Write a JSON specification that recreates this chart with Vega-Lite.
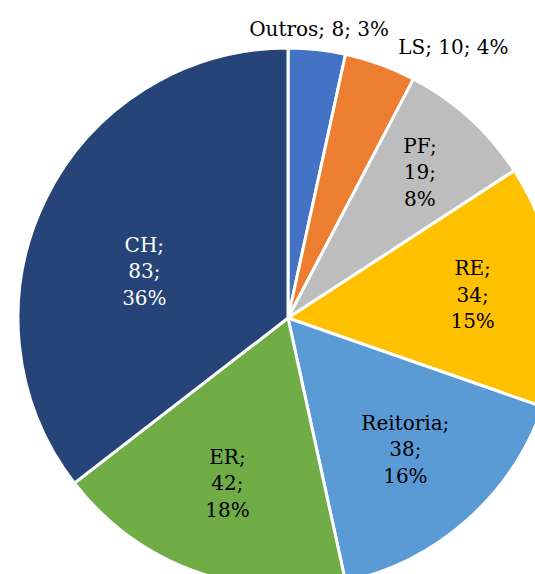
{
  "$schema": "https://vega.github.io/schema/vega-lite/v6.json",
  "autosize": {"type": "none"},
  "padding": 0,
  "width": 576,
  "height": 636,
  "background": "white",
  "view": {"stroke": null},
  "data": {"values": [
    {"Categoria": "Outros", "Valor": 8, "Percentual": 3},
    {"Categoria": "LS", "Valor": 10, "Percentual": 4},
    {"Categoria": "PF", "Valor": 19, "Percentual": 8},
    {"Categoria": "RE", "Valor": 34, "Percentual": 15},
    {"Categoria": "Reitoria", "Valor": 38, "Percentual": 16},
    {"Categoria": "ER", "Valor": 42, "Percentual": 18},
    {"Categoria": "CH", "Valor": 83, "Percentual": 36}
  ]},
  "transform": [
    {"calculate": "indexof(['Outros', 'LS', 'PF', 'RE', 'Reitoria', 'ER', 'CH'], datum.Categoria)", "as": "Ordem"},
    {"calculate": "(datum.Categoria === 'Outros' || datum.Categoria === 'LS') ? datum.Categoria + '; ' + datum.Valor + '; ' + datum.Percentual + '%' : datum.Categoria + ';|' + datum.Valor + ';|' + datum.Percentual + '%'", "as": "Rotulo"}
  ],
  "encoding": {
    "theta": {"field": "Valor", "type": "quantitative", "stack": true},
    "order": {"field": "Ordem", "type": "quantitative", "sort": "ascending"},
    "color": {
      "field": "Categoria",
      "type": "nominal",
      "scale": {
        "domain": ["Outros", "LS", "PF", "RE", "Reitoria", "ER", "CH"],
        "range": ["#4472C4", "#ED7D31", "#BDBDBD", "#FFC000", "#5B9BD5", "#70AD47", "#264478"]
      },
      "legend": null
    }
  },
  "layer": [
    {
      "mark": {"type": "arc", "radius": 270, "stroke": "white", "strokeWidth": 3}
    },
    {
      "mark": {
        "type": "text",
        "font": "DejaVu Serif",
        "fontSize": 20,
        "lineBreak": "|",
        "lineHeight": 26.5,
        "baseline": "middle",
        "align": {"expr": "datum.Categoria === 'LS' ? 'left' : 'center'"},
        "dx": {"expr": "datum.Categoria === 'LS' ? 12 : datum.Categoria === 'CH' ? -9 : 0"},
        "dy": {"expr": "(datum.Categoria === 'Outros' || datum.Categoria === 'LS') ? 0 : datum.Categoria === 'CH' ? -6 : -26.5"},
        "radius": {"expr": "datum.Categoria === 'Outros' ? 290 : datum.Categoria === 'LS' ? 287 : datum.Categoria === 'CH' ? 150 : datum.Categoria === 'PF' ? 196 : datum.Categoria === 'RE' ? 186 : 177"}
      },
      "encoding": {
        "text": {"field": "Rotulo"},
        "color": {
          "condition": {"test": "datum.Categoria === 'CH'", "value": "white"},
          "value": "black"
        }
      }
    }
  ]
}
